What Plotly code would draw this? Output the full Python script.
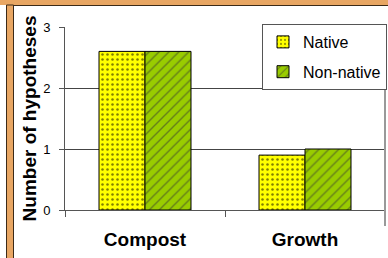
import plotly.graph_objects as go

categories = ["Compost", "Growth"]
native = [2.6, 0.9]
non_native = [2.6, 1.0]
series_names = ["Native", "Non-native"]
y_ticks = [0, 1, 2, 3]

W, H = 388, 258
L, R, T, B = 65, 3, 27, 48
PW, PH = W - L - R, H - T - B

def px(x):
    return (x - L) / PW

def py(y):
    return (H - B - y) / PH

FONT = "Liberation Sans, Arial, sans-serif"
ORANGE = "#E8A663"
DARK = "#3c2a18"

fig = go.Figure()
fig.add_trace(go.Bar(
    x=categories, y=native, name=series_names[0], legendgroup="a",
    marker=dict(color="#FFFF00", line=dict(color="black", width=1),
                pattern=dict(shape=".", fgcolor="black", bgcolor="#FFFF00", size=5, solidity=0.2)),
))
fig.add_trace(go.Bar(
    x=categories, y=non_native, name=series_names[1], legendgroup="b",
    marker=dict(color="#99CC00", line=dict(color="black", width=1),
                pattern=dict(shape="/", fgcolor="#333333", bgcolor="#99CC00", size=7, solidity=0.2)),
))

shapes = [
    dict(type="rect", xref="paper", yref="paper", x0=px(0), x1=px(W), y0=py(5), y1=py(-2),
         fillcolor=ORANGE, line=dict(width=0), layer="above"),
    dict(type="line", xref="paper", yref="paper", x0=px(13), x1=px(W), y0=py(5.5), y1=py(5.5),
         line=dict(color=DARK, width=1), layer="above"),
    dict(type="rect", xref="paper", yref="paper", x0=px(6.5), x1=px(13.5), y0=py(H + 2), y1=py(5),
         fillcolor=ORANGE, line=dict(color=DARK, width=1), layer="above"),
    dict(type="line", xref="paper", yref="paper", x0=px(385), x1=px(385), y0=py(226), y1=py(24),
         line=dict(color="#999999", width=2), layer="above"),
]

fig.update_layout(
    width=W, height=H,
    margin=dict(l=L, r=R, t=T, b=B, autoexpand=False),
    paper_bgcolor="white", plot_bgcolor="white",
    barmode="group", bargap=0.425, bargroupgap=0,
    font=dict(family=FONT, color="black"),
    shapes=shapes,
    showlegend=True,
    legend=dict(x=px(262), y=py(24), xanchor="left", yanchor="top",
                bordercolor="#555555", borderwidth=1, bgcolor="white",
                font=dict(size=16, family=FONT), traceorder="grouped", tracegroupgap=6,
                itemwidth=30),
    xaxis=dict(type="category", showline=True, linecolor="#555555", linewidth=1,
               ticks="outside", tickson="boundaries", ticklen=6, tickcolor="#555555",
               ticklabelstandoff=12, automargin=False,
               tickfont=dict(size=19, family=FONT, weight="bold"), showgrid=False),
    yaxis=dict(range=[0, 3], tickvals=y_ticks, showline=True, linecolor="#555555", linewidth=1,
               ticks="outside", ticklen=5, tickcolor="#555555", tickfont=dict(size=13, family=FONT),
               ticklabelstandoff=6, automargin=False,
               showgrid=True, gridcolor="#444444", gridwidth=1, zeroline=False,
               title=dict(text="Number of hypotheses", font=dict(size=19, family=FONT, weight="bold"),
                          standoff=1)),
)

fig.write_html("out.html", config={"displayModeBar": False},
               post_script="document.body.style.margin='0';document.body.style.overflow='hidden';")
